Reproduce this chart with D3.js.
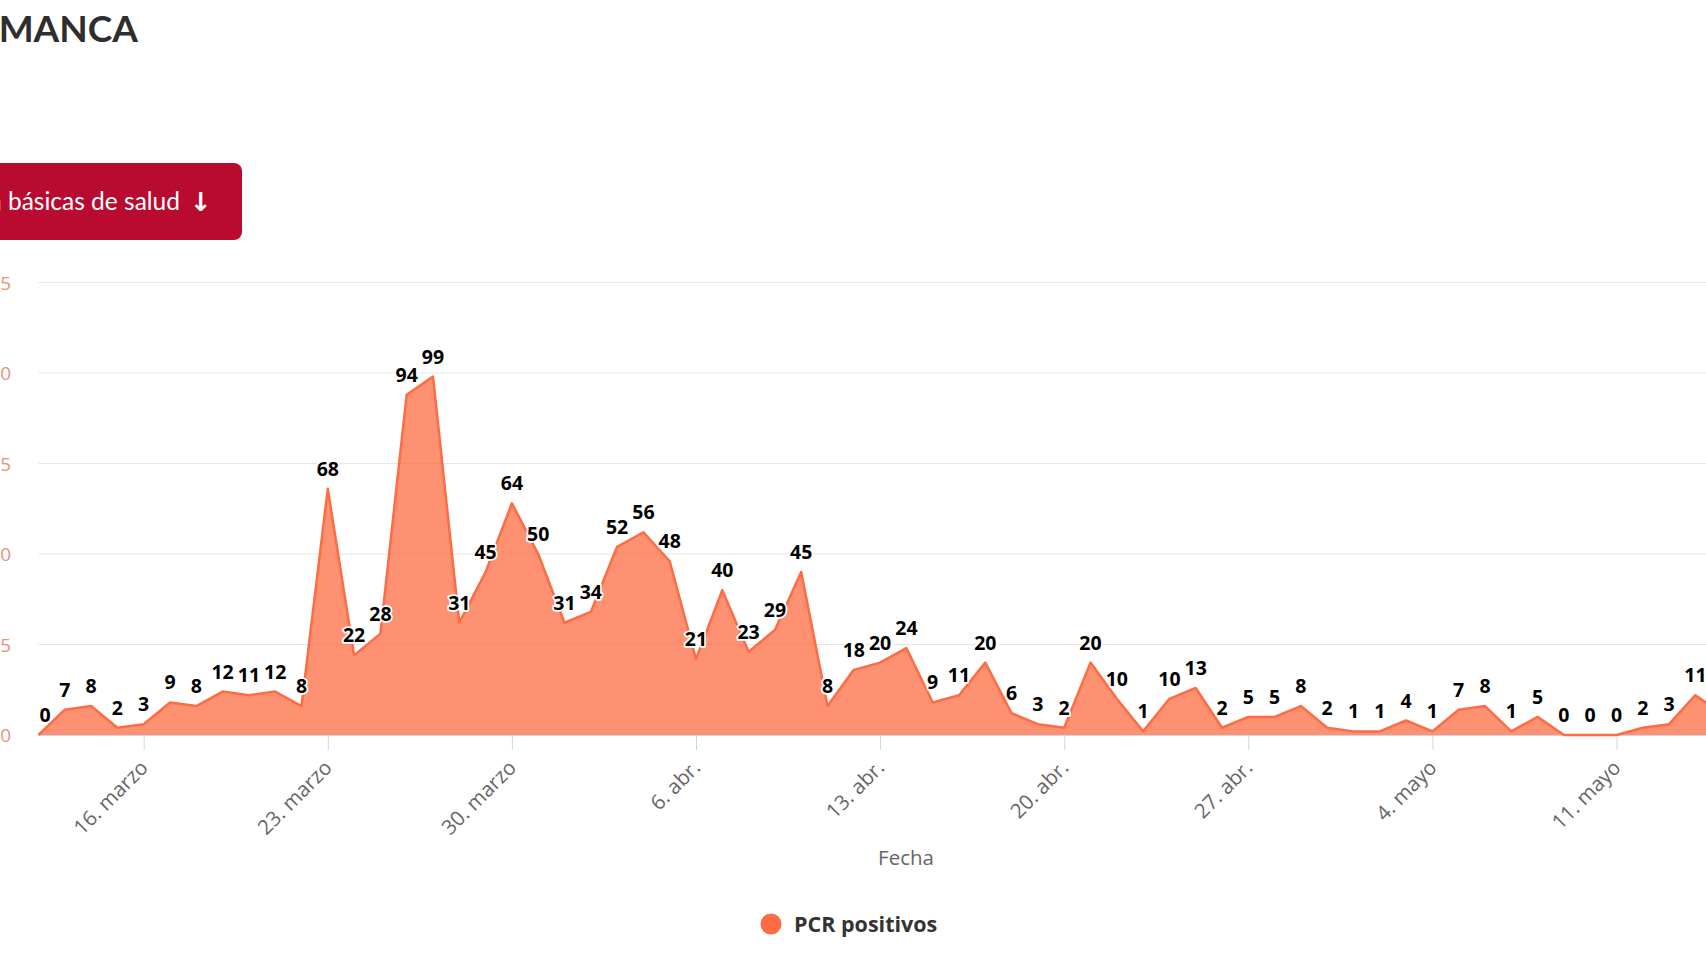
<!DOCTYPE html>
<html>
<head>
<meta charset="utf-8">
<script src="https://cdn.jsdelivr.net/npm/d3@7"></script>
<style>
  html, body { margin: 0; padding: 0; background: #fff; overflow: hidden; }
  svg { display: block; font-family: Lato, "Open Sans", sans-serif; }
</style>
</head>
<body>
<svg id="chart" width="1706" height="960"></svg>
<script>
// ---- Data ----
const startDate = [2020, 2, 12]; // 12 March 2020
const pcrPositivos = [
  0, 7, 8, 2, 3, 9, 8, 12, 11, 12, 8,          // 12–22 marzo
  68, 22, 28, 94, 99, 31, 45, 64, 50,          // 23–31 marzo
  31, 34, 52, 56, 48, 21, 40, 23, 29, 45,      // 1–10 abr.
  8, 18, 20, 24, 9, 11, 20, 6, 3, 2,           // 11–20 abr.
  20, 10, 1, 10, 13, 2, 5, 5, 8, 2,            // 21–30 abr.
  1, 1, 4, 1, 7, 8, 1, 5, 0, 0, 0,             // 1–11 mayo
  2, 3, 11, 6                                  // 12–15 mayo
];
const tickDates = [[2020,2,16],[2020,2,23],[2020,2,30],[2020,3,6],[2020,3,13],[2020,3,20],[2020,3,27],[2020,4,4],[2020,4,11]];
const tickLabels = ["16. marzo","23. marzo","30. marzo","6. abr.","13. abr.","20. abr.","27. abr.","4. mayo","11. mayo"];
const yTicks = [0, 25, 50, 75, 100, 125];
const seriesName = "PCR positivos";
const axisTitle = "Fecha";

const data = pcrPositivos.map((v, i) => ({
  date: new Date(startDate[0], startDate[1], startDate[2] + i),
  value: v
}));

// ---- Layout ----
const svg = d3.select("#chart");
const plotLeft = 38.5, baseY = 735, topY = 282.5;
const dayPx = 26.3;
const color = "#fd6c43";
const chartFont = "'Open Sans', sans-serif";

const x = d3.scaleTime()
  .domain([data[0].date, data[data.length - 1].date])
  .range([plotLeft, plotLeft + dayPx * (data.length - 1)]);
const y = d3.scaleLinear().domain([0, 125]).range([baseY, topY]);

// Title (cropped)
svg.append("text")
  .attr("x", 138).attr("y", 42)
  .attr("text-anchor", "end")
  .attr("font-size", 37).attr("font-weight", 700)
  .attr("fill", "#2e2e2e")
  .text("SALAMANCA");

// Red button (cropped)
svg.append("rect")
  .attr("x", -40).attr("y", 163).attr("width", 282).attr("height", 77)
  .attr("rx", 8).attr("fill", "#b90b2f");
svg.append("text")
  .attr("x", 180).attr("y", 210)
  .attr("text-anchor", "end")
  .attr("font-size", 24.5).attr("fill", "#fff")
  .text("Datos por zona básicas de salud");
svg.append("text")
  .attr("x", 201).attr("y", 211)
  .attr("text-anchor", "middle")
  .attr("font-size", 26).attr("font-weight", 700)
  .attr("font-family", "DejaVu Sans")
  .attr("fill", "#fff")
  .text("↓");

// Gridlines
svg.append("g")
  .selectAll("line")
  .data(yTicks.filter(d => d > 0))
  .join("line")
  .attr("x1", plotLeft).attr("x2", 1706)
  .attr("y1", d => y(d)).attr("y2", d => y(d))
  .attr("stroke", "#e6e6e6").attr("stroke-width", 1);

// Y axis labels
svg.append("g")
  .selectAll("text")
  .data(yTicks)
  .join("text")
  .attr("x", 11).attr("y", d => y(d) + 7)
  .attr("text-anchor", "end")
  .attr("font-family", chartFont)
  .attr("font-size", 19)
  .attr("fill", "#e8937b")
  .text(d => d);

// Area + line
const area = d3.area()
  .x(d => x(d.date)).y0(y(0)).y1(d => y(d.value));
const line = d3.line()
  .x(d => x(d.date)).y(d => y(d.value));

svg.append("path")
  .datum(data)
  .attr("d", area)
  .attr("fill", color).attr("fill-opacity", 0.75);

// X axis
const xAxis = d3.axisBottom(x)
  .tickValues(tickDates.map(t => new Date(t[0], t[1], t[2])))
  .tickFormat((d, i) => tickLabels[i])
  .tickSize(15)
  .tickSizeOuter(0);
const gx = svg.append("g")
  .attr("transform", `translate(0,${baseY})`)
  .call(xAxis);
gx.select(".domain").attr("stroke", "#ccd6eb").attr("d", `M${plotLeft},0.5H1706`);
gx.selectAll(".tick line").attr("stroke", "#ccd6eb");
gx.selectAll(".tick text")
  .attr("font-family", chartFont)
  .attr("font-size", 20.5)
  .attr("fill", "#666")
  .attr("text-anchor", "end")
  .attr("dy", null)
  .attr("y", null)
  .attr("transform", "translate(5,34) rotate(-45)");

svg.append("path")
  .datum(data)
  .attr("d", line)
  .attr("fill", "none")
  .attr("stroke", color).attr("stroke-width", 2.5)
  .attr("stroke-linejoin", "round");

// Data labels
const labels = svg.append("g")
  .selectAll("text")
  .data(data)
  .join("text")
  .attr("x", d => x(d.date))
  .attr("y", d => y(d.value) - 13)
  .attr("text-anchor", "middle")
  .attr("font-family", chartFont)
  .attr("font-size", 19.5).attr("font-weight", 700)
  .attr("fill", "#000")
  .attr("stroke", "#fff").attr("stroke-width", 3.5)
  .attr("stroke-linejoin", "round")
  .attr("paint-order", "stroke")
  .text(d => d.value);
labels.each(function(d) {
  const w = this.getComputedTextLength();
  const cx = x(d.date);
  if (cx - w / 2 < plotLeft) d3.select(this).attr("x", plotLeft + w / 2 + 1);
});

// Axis title
svg.append("text")
  .attr("x", 906).attr("y", 865)
  .attr("text-anchor", "middle")
  .attr("font-family", chartFont)
  .attr("font-size", 20.5).attr("fill", "#666")
  .text(axisTitle);

// Legend
svg.append("circle")
  .attr("cx", 771).attr("cy", 924).attr("r", 10.5)
  .attr("fill", color);
svg.append("text")
  .attr("x", 794).attr("y", 932)
  .attr("font-family", chartFont)
  .attr("font-size", 21.5).attr("font-weight", 700)
  .attr("fill", "#333")
  .text(seriesName);
</script>
</body>
</html>
